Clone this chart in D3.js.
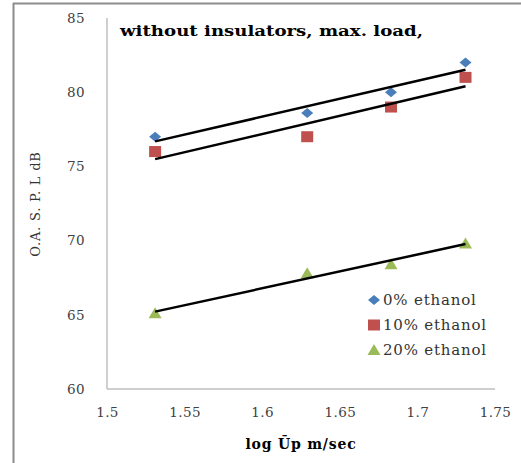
<!DOCTYPE html>
<html>
<head>
<meta charset="utf-8">
<script src="https://cdn.jsdelivr.net/npm/d3@7/dist/d3.min.js"></script>
<style>
  html, body { margin: 0; padding: 0; background: #fff; }
  svg { display: block; }
</style>
</head>
<body>
<svg id="chart" width="521" height="463"></svg>
<script>
// Overall sound pressure level vs. log of mean piston speed
const xValues = [1.531, 1.629, 1.683, 1.731];
const series0 = [77.0, 78.6, 80.0, 82.0];   // 0% ethanol
const series10 = [76.0, 77.0, 79.0, 81.0];  // 10% ethanol
const series20 = [65.1, 67.8, 68.4, 69.8];  // 20% ethanol
const seriesNames = ["0% ethanol", "10% ethanol", "20% ethanol"];
const xTicks = [1.5, 1.55, 1.6, 1.65, 1.7, 1.75];
const yTicks = [60, 65, 70, 75, 80, 85];

const colors = ["#4a7ebb", "#c0504d", "#9bbb59"];
const shapes = ["diamond", "square", "triangle"];
const allSeries = [series0, series10, series20];

const svg = d3.select("#chart");
const W = 521, H = 463;
const m = { left: 107, right: 495, top: 18, bottom: 389 };

const x = d3.scaleLinear().domain([1.5, 1.75]).range([m.left, m.right]);
const y = d3.scaleLinear().domain([60, 85]).range([m.bottom, m.top]);

// Outer frame (left and top edges)
svg.append("line").attr("x1", 13.5).attr("x2", 13.5).attr("y1", 3).attr("y2", H)
  .attr("stroke", "#8c8c8c").attr("stroke-width", 2);
svg.append("line").attr("x1", 13).attr("x2", W).attr("y1", 3.5).attr("y2", 3.5)
  .attr("stroke", "#8c8c8c").attr("stroke-width", 2);

const serif = "'DejaVu Serif', serif";

// Axes
const xAxis = svg.append("g").attr("transform", `translate(0,${m.bottom})`)
  .call(d3.axisBottom(x).tickValues(xTicks).tickSize(0).tickPadding(18)
    .tickFormat(d => String(d)));
const yAxis = svg.append("g").attr("transform", `translate(${m.left},0)`)
  .call(d3.axisLeft(y).tickValues(yTicks).tickSize(0).tickPadding(22)
    .tickFormat(d => String(d)));
[xAxis, yAxis].forEach(g => {
  g.select(".domain").attr("stroke", "#bfbfbf").attr("stroke-width", 1.5);
  g.selectAll("text").attr("font-family", serif).attr("font-size", 13.5)
    .attr("letter-spacing", 0.4).attr("fill", "#404040");
});
yAxis.select(".domain").attr("d", `M0,${m.top}V${m.bottom}`);
xAxis.select(".domain").attr("d", `M${m.left},0H${m.right}`);

// Linear trend line for each series, spanning the measured x range
function fit(xs, ys) {
  const mx = d3.mean(xs), my = d3.mean(ys);
  let sxy = 0, sxx = 0;
  xs.forEach((v, i) => { sxy += (v - mx) * (ys[i] - my); sxx += (v - mx) * (v - mx); });
  const b = sxy / sxx;
  return v => my + b * (v - mx);
}

function marker(g, shape, color, cx, cy) {
  if (shape === "diamond") {
    g.append("path").attr("d", `M${cx - 6},${cy}L${cx},${cy - 5}L${cx + 6},${cy}L${cx},${cy + 5}Z`)
      .attr("fill", color);
  } else if (shape === "square") {
    g.append("rect").attr("x", cx - 6).attr("y", cy - 5.5).attr("width", 12).attr("height", 11)
      .attr("fill", color);
  } else {
    g.append("path").attr("d", `M${cx - 6.5},${cy + 5}L${cx},${cy - 6}L${cx + 6.5},${cy + 5}Z`)
      .attr("fill", color);
  }
}

const plot = svg.append("g");
allSeries.forEach((ys, i) => {
  const g = plot.append("g");
  ys.forEach((v, j) => marker(g, shapes[i], colors[i], x(xValues[j]), y(v)));
});
allSeries.forEach((ys) => {
  const f = fit(xValues, ys);
  const x0 = xValues[0], x1 = xValues[xValues.length - 1];
  plot.append("line")
    .attr("x1", x(x0)).attr("y1", y(f(x0)))
    .attr("x2", x(x1)).attr("y2", y(f(x1)))
    .attr("stroke", "#000").attr("stroke-width", 2.5);
});

// Title inside plot
svg.append("text").attr("x", 120).attr("y", 36)
  .attr("font-family", serif).attr("font-weight", "bold").attr("font-size", 14)
  .attr("textLength", 303).attr("lengthAdjust", "spacingAndGlyphs")
  .attr("fill", "#000").text("without insulators, max. load,");

// Legend
const legend = svg.append("g");
seriesNames.forEach((name, i) => {
  const ly = 300 + i * 25;
  marker(legend, shapes[i], colors[i], 374, ly);
  legend.append("text").attr("x", 383).attr("y", ly + 5)
    .attr("font-family", serif).attr("font-size", 15).attr("letter-spacing", 0.8)
    .attr("fill", "#333").text(name);
});

// Axis titles
svg.append("text")
  .attr("transform", `translate(40,204) rotate(-90)`)
  .attr("text-anchor", "middle")
  .attr("font-family", serif).attr("font-size", 13).attr("letter-spacing", 0.8)
  .attr("fill", "#333")
  .text("O.A. S. P. L  dB");
svg.append("text").attr("x", 301).attr("y", 449).attr("text-anchor", "middle")
  .attr("font-family", serif).attr("font-weight", "bold").attr("font-size", 14)
  .attr("letter-spacing", 0.8)
  .attr("fill", "#000").text("log Ūp m/sec");
</script>
</body>
</html>
